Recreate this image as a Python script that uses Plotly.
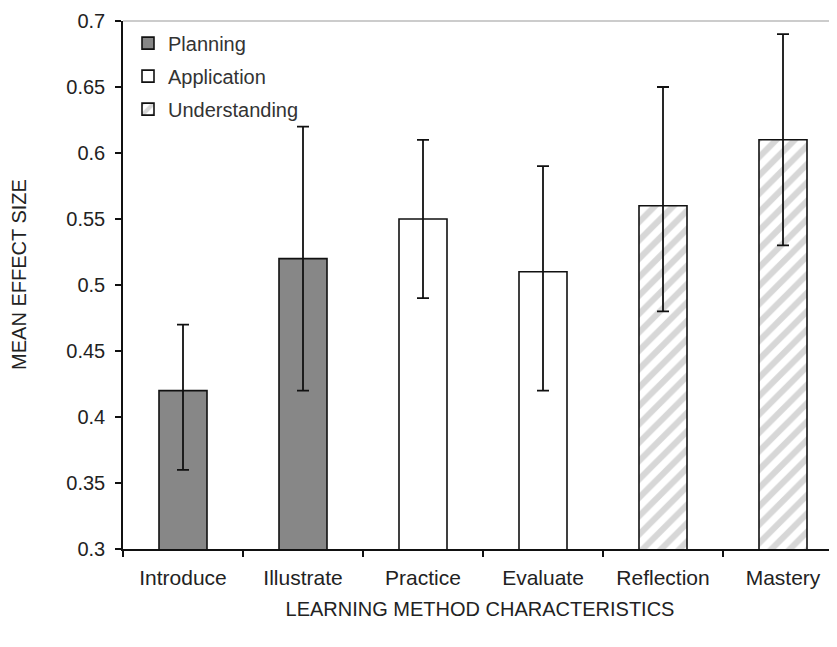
import plotly.graph_objects as go

categories = ["Introduce", "Illustrate", "Practice", "Evaluate", "Reflection", "Mastery"]
groups = ["Planning", "Planning", "Application", "Application", "Understanding", "Understanding"]
means = [0.42, 0.52, 0.55, 0.51, 0.56, 0.61]
ci_low = [0.36, 0.42, 0.49, 0.42, 0.48, 0.53]
ci_high = [0.47, 0.62, 0.61, 0.59, 0.65, 0.69]

group_names = ["Planning", "Application", "Understanding"]
y_ticks = [0.3, 0.35, 0.4, 0.45, 0.5, 0.55, 0.6, 0.65, 0.7]

styles = {
    "Planning": dict(color="#878787", pattern=dict(shape="")),
    "Application": dict(color="#ffffff", pattern=dict(shape="")),
    "Understanding": dict(color="#ffffff",
                          pattern=dict(shape="/", fgcolor="#b0b0b0", bgcolor="#ffffff",
                                       size=13, solidity=0.48, fillmode="overlay")),
}

fig = go.Figure()
for g in group_names:
    idx = [i for i, gg in enumerate(groups) if gg == g]
    xs = [categories[i] for i in idx]
    ys = [means[i] for i in idx]
    up = [ci_high[i] - means[i] for i in idx]
    dn = [means[i] - ci_low[i] for i in idx]
    st = styles[g]
    fig.add_trace(go.Bar(
        name=g, x=xs, y=ys, width=0.4, legendgroup=g,
        marker=dict(color=st["color"], line=dict(color="#111111", width=1.6),
                    pattern=st["pattern"]),
        error_y=dict(type="data", symmetric=False, array=up, arrayminus=dn,
                     color="#111111", thickness=1.8, width=6),
    ))

font_main = "Liberation Sans, Arial, Helvetica, sans-serif"

# page body has an 8px default margin, so the figure is 8px smaller
fig.update_layout(
    width=829, height=639, autosize=False,
    margin=dict(l=115, r=0, t=13, b=98),
    paper_bgcolor="white", plot_bgcolor="white",
    barmode="overlay",
    font=dict(family=font_main, size=20, color="#222222"),
    legend=dict(x=0.007, y=0.995, xanchor="left", yanchor="top",
                bgcolor="rgba(0,0,0,0)", font=dict(size=20, color="#333333"),
                traceorder="grouped", tracegroupgap=4),
    shapes=[dict(type="line", xref="paper", yref="paper", x0=0, x1=1, y0=1, y1=1,
                 line=dict(color="#999999", width=1))],
    annotations=[dict(text="MEAN EFFECT SIZE", xref="paper", yref="paper",
                      x=-0.145, y=0.52, xanchor="center", yanchor="middle",
                      textangle=-90, showarrow=False,
                      font=dict(size=20, color="#222222"))],
)

fig.update_xaxes(
    type="category", categoryorder="array", categoryarray=categories,
    range=[-0.5, 5.45],
    showline=True, linecolor="#111111", linewidth=1.5,
    ticks="outside", tickson="boundaries", ticklen=6, tickcolor="#111111", tickwidth=1.5,
    ticklabelstandoff=9,
    tickfont=dict(family="Liberation Sans Narrow, Arial Narrow, Liberation Sans, sans-serif",
                  size=21, color="#222222"),
    showgrid=False, zeroline=False, automargin=False,
    title=dict(text="LEARNING METHOD CHARACTERISTICS", standoff=14,
               font=dict(size=20, color="#222222")),
)
fig.update_yaxes(
    range=[0.3, 0.7], tickvals=y_ticks, ticktext=[str(v) for v in y_ticks],
    showline=True, linecolor="#111111", linewidth=1.5,
    ticks="outside", ticklen=6, tickcolor="#111111", tickwidth=1.5,
    ticklabelstandoff=6,
    showgrid=False, zeroline=False, automargin=False,
)

fig.write_html("out.html")
